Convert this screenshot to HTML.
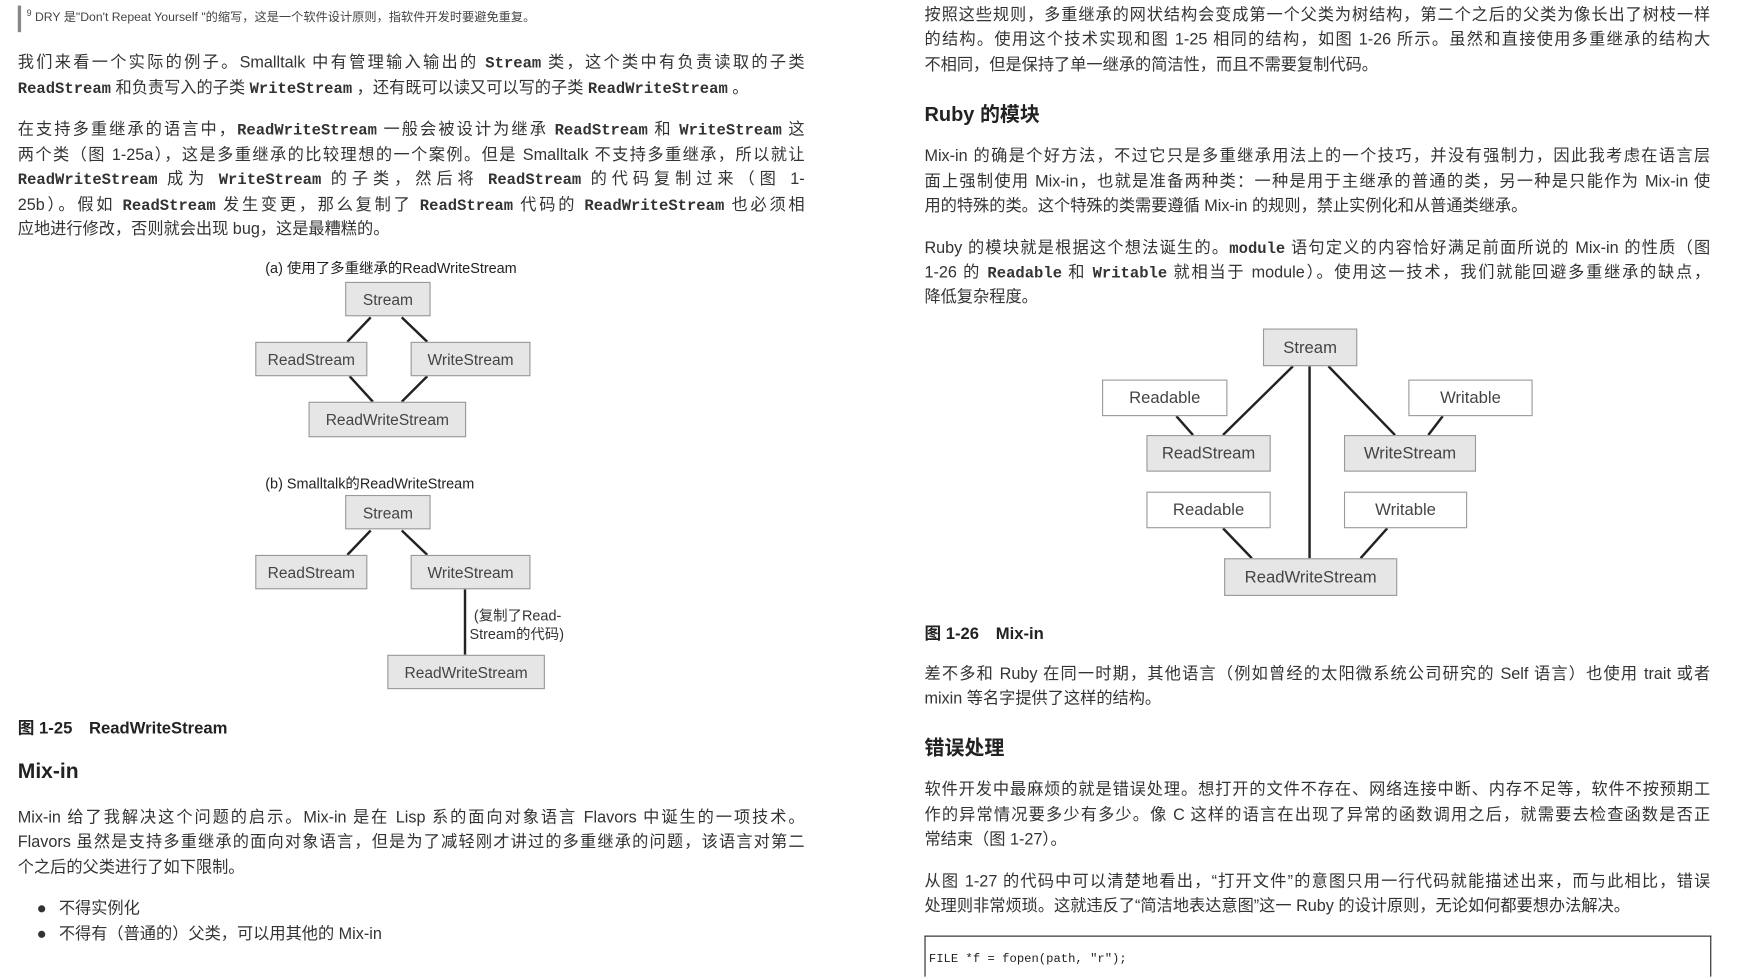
<!DOCTYPE html>
<html><head><meta charset="utf-8"><style>
html,body{margin:0;padding:0;background:#fff;overflow:hidden;width:1740px;height:980px;position:relative}
#w{position:absolute;left:0;top:0;width:1560px;height:880px;overflow:hidden;transform:scale(1.1098);transform-origin:0 0;font-family:"Liberation Sans","Noto Sans CJK SC",sans-serif;color:#333}
.l{position:absolute;height:20px;line-height:20px;font-size:14.6px;white-space:nowrap;text-align:justify;text-align-last:justify}
.n{text-align-last:left}
.L{left:16px;width:709px}.R{left:833px;width:708px}
code,.m{font-family:"Liberation Mono","Noto Sans CJK SC",monospace;font-weight:bold;font-size:14px}
.b{position:absolute;box-sizing:border-box;border:1.5px solid #999;background:#e6e6e6;font-size:14px;color:#444;display:flex;align-items:center;justify-content:center}
.w{background:#fff}
.t{position:absolute;white-space:nowrap}
svg{position:absolute;left:0;top:0}
</style></head><body><div id="w">
<div style="position:absolute;left:16px;top:5px;width:3px;height:24px;background:#888"></div>
<div class="t" style="left:24px;top:7px;font-size:11px;color:#444"><sup style="font-size:8px">9</sup> DRY 是"Don't Repeat Yourself "的缩写，这是一个软件设计原则，指软件开发时要避免重复。</div>

<div class="l L" style="top:47px">我们来看一个实际的例子。Smalltalk 中有管理输入输出的 <code>Stream</code> 类，这个类中有负责读取的子类</div>
<div class="l L n" style="top:70px"><code>ReadStream</code> 和负责写入的子类 <code>WriteStream</code> ，还有既可以读又可以写的子类 <code>ReadWriteStream</code> 。</div>
<div class="l L" style="top:107px">在支持多重继承的语言中，<code>ReadWriteStream</code> 一般会被设计为继承 <code>ReadStream</code> 和 <code>WriteStream</code> 这</div>
<div class="l L" style="top:130px">两个类（图 1-25a），这是多重继承的比较理想的一个案例。但是 Smalltalk 不支持多重继承，所以就让</div>
<div class="l L" style="top:152px"><code>ReadWriteStream</code> 成为 <code>WriteStream</code> 的子类，然后将 <code>ReadStream</code> 的代码复制过来（图 1-</div>
<div class="l L" style="top:175px">25b）。假如 <code>ReadStream</code> 发生变更，那么复制了 <code>ReadStream</code> 代码的 <code>ReadWriteStream</code> 也必须相</div>
<div class="l L n" style="top:197px">应地进行修改，否则就会出现 bug，这是最糟糕的。</div>

<div class="t" style="left:239px;top:231px;font-size:13px;color:#222">(a) 使用了多重继承的ReadWriteStream</div>
<div class="t" style="left:239px;top:425px;font-size:13px;color:#222">(b) Smalltalk的ReadWriteStream</div>

<svg width="1560" height="880"><g stroke="#222" stroke-width="2.2" fill="none">
<line x1="334" y1="286" x2="313" y2="308"/><line x1="362" y1="286" x2="385" y2="308"/>
<line x1="315" y1="339" x2="336" y2="362"/><line x1="385" y1="339" x2="362" y2="362"/>
<line x1="334" y1="478" x2="313" y2="500"/><line x1="362" y1="478" x2="385" y2="500"/>
<line x1="419" y1="531" x2="419" y2="590"/>
<line x1="1165" y1="330" x2="1102" y2="392"/><line x1="1180" y1="330" x2="1180" y2="503"/><line x1="1197" y1="330" x2="1257" y2="392"/>
<line x1="1060" y1="375" x2="1075" y2="392"/><line x1="1300" y1="375" x2="1287" y2="392"/>
<line x1="1102" y1="476" x2="1128" y2="503"/><line x1="1250" y1="476" x2="1226" y2="503"/>
</g></svg>

<div class="b" style="left:311px;top:254px;width:77px;height:31px">Stream</div>
<div class="b" style="left:230px;top:308px;width:101px;height:31px">ReadStream</div>
<div class="b" style="left:370px;top:308px;width:108px;height:31px">WriteStream</div>
<div class="b" style="left:278px;top:362px;width:142px;height:32px">ReadWriteStream</div>

<div class="b" style="left:311px;top:446px;width:77px;height:31px">Stream</div>
<div class="b" style="left:230px;top:500px;width:101px;height:31px">ReadStream</div>
<div class="b" style="left:370px;top:500px;width:108px;height:31px">WriteStream</div>
<div class="t" style="left:427px;top:544px;font-size:13px;color:#333">(复制了Read-</div>
<div class="t" style="left:423px;top:561px;font-size:13px;color:#333">Stream的代码)</div>
<div class="b" style="left:349px;top:590px;width:142px;height:31px">ReadWriteStream</div>

<div class="t" style="left:16px;top:645px;font-size:15px;font-weight:bold;color:#222">图 1-25　ReadWriteStream</div>
<div class="t" style="left:16px;top:685px;font-size:19px;font-weight:bold;color:#222">Mix-in</div>
<div class="l L" style="top:727px">Mix-in 给了我解决这个问题的启示。Mix-in 是在 Lisp 系的面向对象语言 Flavors 中诞生的一项技术。</div>
<div class="l L" style="top:749px">Flavors 虽然是支持多重继承的面向对象语言，但是为了减轻刚才讲过的多重继承的问题，该语言对第二</div>
<div class="l L n" style="top:772px">个之后的父类进行了如下限制。</div>
<div class="t" style="left:33px;top:809px;font-size:15px;line-height:20px">●</div>
<div class="l n" style="left:53px;top:809px">不得实例化</div>
<div class="t" style="left:33px;top:832px;font-size:15px;line-height:20px">●</div>
<div class="l n" style="left:53px;top:832px">不得有（普通的）父类，可以用其他的 Mix-in</div>

<div class="l R" style="top:4px">按照这些规则，多重继承的网状结构会变成第一个父类为树结构，第二个之后的父类为像长出了树枝一样</div>
<div class="l R" style="top:26px">的结构。使用这个技术实现和图 1-25 相同的结构，如图 1-26 所示。虽然和直接使用多重继承的结构大</div>
<div class="l R n" style="top:49px">不相同，但是保持了单一继承的简洁性，而且不需要复制代码。</div>
<div class="t" style="left:833px;top:89px;font-size:18px;font-weight:bold;color:#222">Ruby 的模块</div>
<div class="l R" style="top:131px">Mix-in 的确是个好方法，不过它只是多重继承用法上的一个技巧，并没有强制力，因此我考虑在语言层</div>
<div class="l R" style="top:154px">面上强制使用 Mix-in，也就是准备两种类：一种是用于主继承的普通的类，另一种是只能作为 Mix-in 使</div>
<div class="l R n" style="top:176px">用的特殊的类。这个特殊的类需要遵循 Mix-in 的规则，禁止实例化和从普通类继承。</div>
<div class="l R" style="top:214px">Ruby 的模块就是根据这个想法诞生的。<code>module</code> 语句定义的内容恰好满足前面所说的 Mix-in 的性质（图</div>
<div class="l R" style="top:236px">1-26 的 <code>Readable</code> 和 <code>Writable</code> 就相当于 module）。使用这一技术，我们就能回避多重继承的缺点，</div>
<div class="l R n" style="top:258px">降低复杂程度。</div>

<div class="b" style="left:1138px;top:296px;width:85px;height:34px;font-size:15px">Stream</div>
<div class="b w" style="left:993px;top:342px;width:113px;height:33px;font-size:15px">Readable</div>
<div class="b w" style="left:1269px;top:342px;width:112px;height:33px;font-size:15px">Writable</div>
<div class="b" style="left:1033px;top:392px;width:112px;height:33px;font-size:15px">ReadStream</div>
<div class="b" style="left:1211px;top:392px;width:119px;height:33px;font-size:15px">WriteStream</div>
<div class="b w" style="left:1033px;top:443px;width:112px;height:33px;font-size:15px">Readable</div>
<div class="b w" style="left:1211px;top:443px;width:111px;height:33px;font-size:15px">Writable</div>
<div class="b" style="left:1103px;top:503px;width:156px;height:34px;font-size:15px">ReadWriteStream</div>

<div class="t" style="left:833px;top:560px;font-size:15px;font-weight:bold;color:#222">图 1-26　Mix-in</div>
<div class="l R" style="top:598px">差不多和 Ruby 在同一时期，其他语言（例如曾经的太阳微系统公司研究的 Self 语言）也使用 trait 或者</div>
<div class="l R n" style="top:620px">mixin 等名字提供了这样的结构。</div>
<div class="t" style="left:833px;top:660px;font-size:18px;font-weight:bold;color:#222">错误处理</div>
<div class="l R" style="top:702px">软件开发中最麻烦的就是错误处理。想打开的文件不存在、网络连接中断、内存不足等，软件不按预期工</div>
<div class="l R" style="top:725px">作的异常情况要多少有多少。像 C 这样的语言在出现了异常的函数调用之后，就需要去检查函数是否正</div>
<div class="l R n" style="top:747px">常结束（图 1-27）。</div>
<div class="l R" style="top:785px">从图 1-27 的代码中可以清楚地看出，“打开文件”的意图只用一行代码就能描述出来，而与此相比，错误</div>
<div class="l R n" style="top:807px">处理则非常烦琐。这就违反了“简洁地表达意图”这一 Ruby 的设计原则，无论如何都要想办法解决。</div>
<div style="position:absolute;left:833px;top:843px;width:707px;height:40px;border:1.3px solid #222;border-bottom:none"></div>
<div class="t" style="left:837px;top:859px;font-family:'Liberation Mono',monospace;font-size:11px;color:#222">FILE *f = fopen(path, "r");</div>
</div></body></html>
